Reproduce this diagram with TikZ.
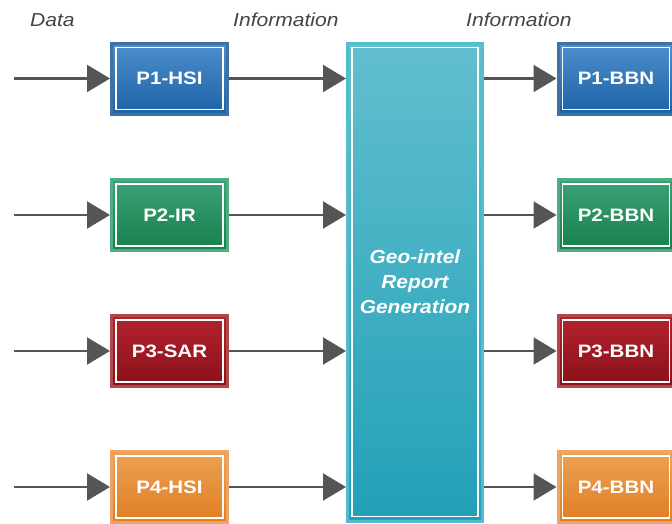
\documentclass[tikz,border=0pt]{standalone}
\usepackage{fontspec}
\setmainfont{Liberation Sans}
\newfontfamily\boxfont[FakeStretch=1.14]{Liberation Sans}
\newfontfamily\geofont[FakeStretch=1.1]{Liberation Sans}
\newfontfamily\hdrfont[FakeStretch=1.12]{Liberation Sans}
\usetikzlibrary{arrows.meta}
\definecolor{arrowgray}{HTML}{555555}
\definecolor{labelgray}{HTML}{444444}
\definecolor{bluebd}{HTML}{3F70A6}\definecolor{bluetop}{HTML}{4E8FCC}\definecolor{bluebot}{HTML}{1C62A6}
\definecolor{greenbd}{HTML}{4DAE86}\definecolor{greentop}{HTML}{3AA275}\definecolor{greenbot}{HTML}{18804E}
\definecolor{redbd}{HTML}{B2474C}\definecolor{redtop}{HTML}{B2222E}\definecolor{redbot}{HTML}{8A1119}
\definecolor{orangebd}{HTML}{EFA463}\definecolor{orangetop}{HTML}{ECA155}\definecolor{orangebot}{HTML}{E07E22}
\definecolor{tealbd}{HTML}{55BCD0}\definecolor{tealtop}{HTML}{62BFCE}\definecolor{tealbot}{HTML}{22A0B8}
\tikzset{
  procbox/.style n args={3}{rectangle, draw=#1, line width=3pt, top color=#2, bottom color=#3,
    minimum width=116pt, minimum height=71pt, inner sep=0pt, text=white,
    font=\boxfont\bfseries\fontsize{18}{20}\selectfont,
    path picture={\draw[white,line width=1.3pt]
      ([shift={(4.5pt,-4.5pt)}]path picture bounding box.north west) rectangle
      ([shift={(-4.5pt,4.5pt)}]path picture bounding box.south east);}},
  flow/.style={draw=arrowgray, line width=2.2pt, -{Triangle[length=23pt,width=27pt]}, color=arrowgray},
  hdr/.style={text=labelgray, font=\hdrfont\itshape\fontsize{18.8}{20}\selectfont, anchor=west, inner sep=0pt}
}
\begin{document}
\begin{tikzpicture}[x=1pt,y=-1pt]
\useasboundingbox (0,0) rectangle (672,523);
% headers
\node[hdr] (hdata) at (30,20) {Data};
\node[hdr] (hinfo1) at (233,20) {Information};
\node[hdr] (hinfo2) at (466,20) {Information};
% central box
\node[procbox={tealbd}{tealtop}{tealbot}, minimum width=135pt, minimum height=478pt,
  font=\geofont\bfseries\itshape\fontsize{19}{25}\selectfont, align=center] (geo) at (415,282)
  {Geo-intel\\Report\\Generation};
% left boxes
\node[procbox={bluebd}{bluetop}{bluebot}] (p1) at (169.5,78.5) {P1-HSI};
\node[procbox={greenbd}{greentop}{greenbot}] (p2) at (169.5,215) {P2-IR};
\node[procbox={redbd}{redtop}{redbot}] (p3) at (169.5,351) {P3-SAR};
\node[procbox={orangebd}{orangetop}{orangebot}] (p4) at (169.5,487) {P4-HSI};
% right boxes
\node[procbox={bluebd}{bluetop}{bluebot}] (b1) at (616,78.5) {P1-BBN};
\node[procbox={greenbd}{greentop}{greenbot}] (b2) at (616,215) {P2-BBN};
\node[procbox={redbd}{redtop}{redbot}] (b3) at (616,351) {P3-BBN};
\node[procbox={orangebd}{orangetop}{orangebot}] (b4) at (616,487) {P4-BBN};
% input ends
\coordinate (i1) at (14,78.5);
\coordinate (i2) at (14,215);
\coordinate (i3) at (14,351);
\coordinate (i4) at (14,487);
\foreach \k in {1,2,3,4}{
  \draw[flow] (i\k) -- (p\k.west);
  \draw[flow] (p\k.east) -- (geo.west |- p\k.east);
  \draw[flow] (geo.east |- b\k.west) -- (b\k.west);
}
\end{tikzpicture}
\end{document}
